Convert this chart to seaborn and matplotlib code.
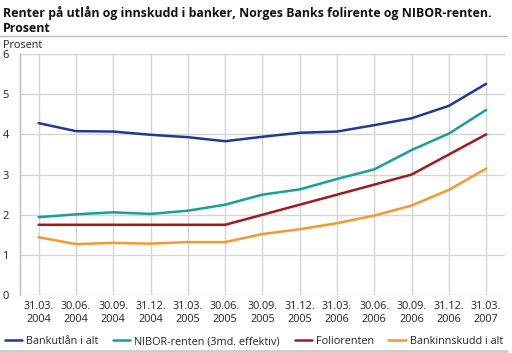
import matplotlib
matplotlib.use("Agg")
import matplotlib.pyplot as plt
import seaborn as sns
import pandas as pd
from matplotlib.lines import Line2D

dates = ["31.03.\n2004", "30.06.\n2004", "30.09.\n2004", "31.12.\n2004", "31.03.\n2005",
         "30.06.\n2005", "30.09.\n2005", "31.12.\n2005", "31.03.\n2006", "30.06.\n2006",
         "30.09.\n2006", "31.12.\n2006", "31.03.\n2007"]
bankutlan = [4.28, 4.08, 4.07, 3.99, 3.93, 3.83, 3.94, 4.04, 4.07, 4.23, 4.40, 4.71, 5.26]
nibor = [1.94, 2.01, 2.06, 2.02, 2.10, 2.25, 2.50, 2.63, 2.89, 3.13, 3.61, 4.02, 4.61]
folio = [1.75, 1.75, 1.75, 1.75, 1.75, 1.75, 2.00, 2.25, 2.50, 2.75, 3.00, 3.50, 4.00]
innskudd = [1.44, 1.27, 1.30, 1.28, 1.32, 1.32, 1.52, 1.64, 1.79, 1.98, 2.23, 2.62, 3.15]
series_names = ["Bankutlån i alt", "NIBOR-renten (3md. effektiv)", "Foliorenten", "Bankinnskudd i alt"]
colors = ["#1f3a93", "#1a9e99", "#9b1c1f", "#f7982f"]

rows = []
for name, vals in zip(series_names, [bankutlan, nibor, folio, innskudd]):
    for i, v in enumerate(vals):
        rows.append({"pos": i, "value": v, "serie": name})
df = pd.DataFrame(rows)

sns.set_theme(style="white")
plt.rcParams["font.family"] = ["Open Sans", "DejaVu Sans"]

fig = plt.figure(figsize=(5.12, 3.53), dpi=100)
ax = fig.add_axes([0.039, 0.164, 0.947, 0.683])

sns.lineplot(data=df, x="pos", y="value", hue="serie", palette=colors,
             hue_order=series_names, linewidth=1.8, ax=ax, legend=False)

ax.set_xlim(-0.5, 12.5)
ax.set_ylim(0, 6)
ax.set_xticks(range(len(dates)))
ax.set_xticklabels(dates, fontsize=7.8, color="#222222", linespacing=1.25)
ax.set_yticks(range(0, 7))
ax.set_yticklabels([str(v) for v in range(0, 7)], fontsize=8, color="#222222")
ax.tick_params(axis="both", length=0, pad=4)
ax.tick_params(axis="y", pad=8)
ax.grid(True, color="#d4d4d4", linewidth=1.0)
ax.set_axisbelow(True)
for s in ["top", "right", "bottom"]:
    ax.spines[s].set_visible(False)
ax.spines["left"].set_color("#bbbbbb")
ax.spines["left"].set_linewidth(1.0)
ax.set_xlabel("")
ax.set_ylabel("")

fig.text(0.006, 0.982, "Renter på utlån og innskudd i banker, Norges Banks folirente og NIBOR-renten.\nProsent",
         fontsize=8.9, fontweight="bold", va="top", ha="left", color="#111111", linespacing=1.2)
fig.text(0.006, 0.855, "Prosent", fontsize=7.8, va="bottom", ha="left", color="#222222")

fig.add_artist(Line2D([0.0, 0.99], [0.899, 0.899], color="#bbbbbb", linewidth=1.0, transform=fig.transFigure))
fig.add_artist(Line2D([0.0, 0.99], [0.006, 0.006], color="#cccccc", linewidth=2.0, transform=fig.transFigure))

handles = [Line2D([0], [0], color=c, linewidth=1.8) for c in colors]
fig.legend(handles, series_names, loc="lower left", bbox_to_anchor=(-0.005, -0.005), ncol=4,
           frameon=False, fontsize=7.8, handlelength=1.6, handletextpad=0.35, columnspacing=1.35,
           borderaxespad=0.3)

fig.savefig("out.png", dpi=100)
